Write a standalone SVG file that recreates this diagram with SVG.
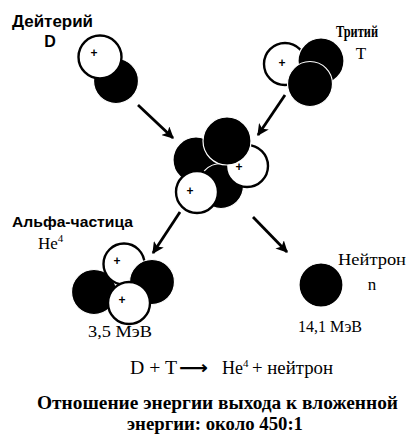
<svg xmlns="http://www.w3.org/2000/svg" width="410" height="435" viewBox="0 0 410 435">
  <defs>
    <marker id="head" viewBox="0 0 10 10" refX="9" refY="5" markerWidth="4.2" markerHeight="4.2" markerUnits="strokeWidth" orient="auto">
      <path d="M0,0 L10,5 L0,10 L2.5,5 Z" fill="#000"/>
    </marker>
    <style>
      .proton { fill: #fff; stroke: #000; stroke-width: 2.4; }
      .neutron { fill: #000; stroke: #fff; stroke-width: 1.2; }
      .plus { font-family: "Liberation Sans", Arial, sans-serif; font-size: 12px; font-weight: bold; text-anchor: middle; fill: #000; }
      .sans { font-family: "Liberation Sans", Arial, sans-serif; font-weight: bold; fill: #000; }
      .serif { font-family: "Liberation Serif", "Times New Roman", serif; fill: #000; }
      .bold { font-family: "Liberation Serif", "Times New Roman", serif; font-weight: bold; font-size: 18px; fill: #000; }
      .arrow { stroke: #000; stroke-width: 2.8; fill: none; marker-end: url(#head); }
    </style>
  </defs>
  <rect width="410" height="435" fill="#fff"/>

  <!-- deuterium nucleus -->
  <g id="deuterium">
    <text class="sans" x="12" y="27" font-size="16" textLength="81" lengthAdjust="spacingAndGlyphs">Дейтерий</text>
    <text class="sans" x="50" y="47" font-size="16" text-anchor="middle">D</text>
    <circle class="neutron" cx="116" cy="81" r="22.5"/>
    <circle class="proton" cx="100" cy="57" r="21.5"/>
    <text class="plus" x="94" y="57">+</text>
  </g>

  <!-- tritium nucleus -->
  <g id="tritium">
    <text class="serif" x="336" y="37" font-size="17" font-weight="bold" textLength="42" lengthAdjust="spacingAndGlyphs">Тритий</text>
    <text class="serif" x="361" y="59" font-size="17" text-anchor="middle">T</text>
    <circle class="proton" cx="285" cy="64" r="21"/>
    <text class="plus" x="282" y="67">+</text>
    <circle class="neutron" cx="321" cy="61" r="23"/>
    <circle class="neutron" cx="310" cy="84" r="22.5"/>
  </g>

  <!-- compound nucleus -->
  <g id="compound">
    <circle class="neutron" cx="196" cy="160" r="23"/>
    <circle class="neutron" cx="221" cy="186" r="22.5"/>
    <circle class="proton" cx="247" cy="166" r="21"/>
    <text class="plus" x="239" y="171">+</text>
    <circle class="neutron" cx="227" cy="141" r="24"/>
    <circle class="proton" cx="197" cy="192" r="21"/>
    <text class="plus" x="190" y="195">+</text>
  </g>

  <!-- helium-4 nucleus -->
  <g id="alpha">
    <text class="sans" x="12" y="227" font-size="14" textLength="121" lengthAdjust="spacingAndGlyphs">Альфа-частица</text>
    <text class="serif" x="38" y="249" font-size="17">He<tspan font-size="11" dy="-7">4</tspan></text>
    <circle class="neutron" cx="94" cy="292" r="22.5"/>
    <circle class="proton" cx="124" cy="264" r="20.5"/>
    <text class="plus" x="117" y="265">+</text>
    <circle class="neutron" cx="152" cy="282" r="22.5"/>
    <circle class="proton" cx="129" cy="303" r="21"/>
    <text class="plus" x="122" y="304">+</text>
    <text class="serif" x="88" y="337" font-size="17" textLength="64" lengthAdjust="spacingAndGlyphs">3,5 МэВ</text>
  </g>

  <!-- free neutron -->
  <g id="neutron">
    <text class="serif" x="338" y="265" font-size="17" textLength="68" lengthAdjust="spacingAndGlyphs">Нейтрон</text>
    <text class="serif" x="372" y="290" font-size="17" text-anchor="middle">n</text>
    <circle class="neutron" cx="321" cy="285" r="22"/>
    <text class="serif" x="298" y="332" font-size="17" textLength="64" lengthAdjust="spacingAndGlyphs">14,1 МэВ</text>
  </g>

  <!-- reaction arrows -->
  <g id="connectors">
    <line class="arrow" x1="138" y1="105" x2="173" y2="138"/>
    <line class="arrow" x1="285" y1="95" x2="258" y2="135"/>
    <line class="arrow" x1="180" y1="212" x2="153" y2="253"/>
    <line class="arrow" x1="253" y1="217" x2="287" y2="252"/>
  </g>

  <!-- reaction equation and caption -->
  <g id="equation">
    <text class="serif" x="130" y="374" font-size="18" textLength="47" lengthAdjust="spacingAndGlyphs">D + T</text>
    <text x="179" y="374" font-family="'DejaVu Sans', sans-serif" font-weight="bold" font-size="18" textLength="29" lengthAdjust="spacingAndGlyphs">⟶</text>
    <text class="serif" x="222" y="374" font-size="18">He<tspan font-size="11" dy="-7">4</tspan></text>
    <text class="serif" x="252" y="374" font-size="18" textLength="81" lengthAdjust="spacingAndGlyphs">+ нейтрон</text>
  </g>
  <g id="caption">
    <text class="bold" x="37" y="409" textLength="361" lengthAdjust="spacingAndGlyphs">Отношение энергии выхода к вложенной</text>
    <text class="bold" x="127" y="430" textLength="176" lengthAdjust="spacingAndGlyphs">энергии: около 450:1</text>
  </g>
</svg>
